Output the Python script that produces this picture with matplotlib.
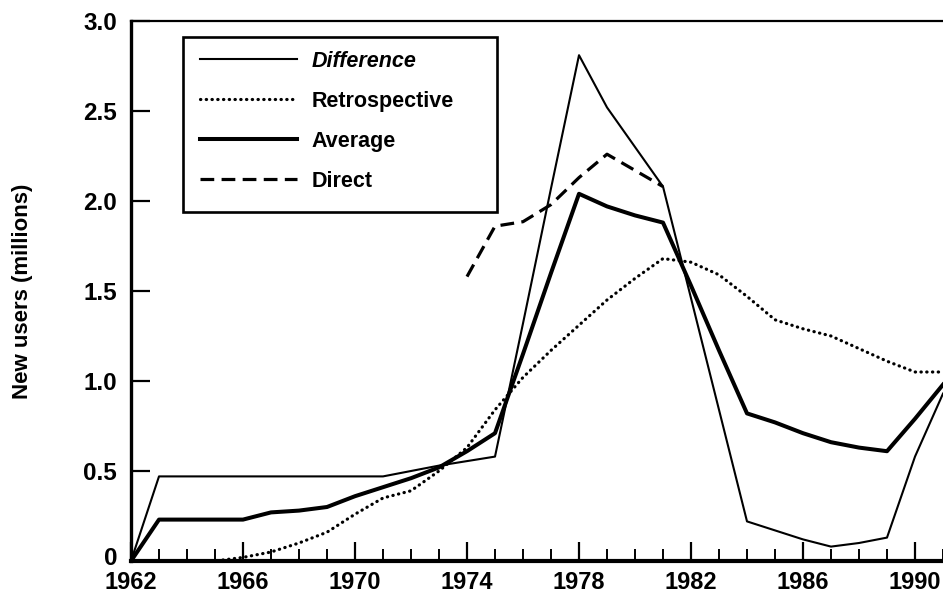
import matplotlib
matplotlib.use("Agg")
import matplotlib.pyplot as plt
import matplotlib.transforms as mtransforms
from matplotlib.patches import Rectangle
from matplotlib.ticker import MultipleLocator, FixedLocator

plt.rcParams['font.family'] = ['Liberation Sans', 'DejaVu Sans']

years = list(range(1962, 1992))
difference = [0.00, 0.47, 0.47, 0.47, 0.47, 0.47, 0.47, 0.47, 0.47, 0.47,
              0.50, 0.53, 0.555, 0.58, 1.32, 2.07, 2.81, 2.52, 2.30, 2.08,
              1.46, 0.84, 0.22, 0.17, 0.12, 0.08, 0.10, 0.13, 0.58, 0.93]
retrospective = [0.00, 0.00, 0.00, 0.00, 0.02, 0.05, 0.10, 0.16, 0.26, 0.35,
                 0.39, 0.50, 0.63, 0.84, 1.02, 1.17, 1.31, 1.45, 1.57, 1.68,
                 1.66, 1.59, 1.47, 1.34, 1.29, 1.25, 1.18, 1.11, 1.05, 1.05]
average = [0.00, 0.23, 0.23, 0.23, 0.23, 0.27, 0.28, 0.30, 0.36, 0.41,
           0.46, 0.52, 0.61, 0.71, 1.15, 1.60, 2.04, 1.97, 1.92, 1.88,
           1.53, 1.17, 0.82, 0.77, 0.71, 0.66, 0.63, 0.61, 0.79, 0.98]
direct_years = list(range(1974, 1982))
direct = [1.58, 1.86, 1.885, 1.98, 2.13, 2.26, 2.17, 2.08]

x_ticks = [1962, 1966, 1970, 1974, 1978, 1982, 1986, 1990]
y_ticks = [0, 0.5, 1.0, 1.5, 2.0, 2.5, 3.0]
y_labels = ['0', '0.5', '1.0', '1.5', '2.0', '2.5', '3.0']

fig = plt.figure(figsize=(9.43, 5.93), dpi=100)
ax = fig.add_axes([131 / 943, 32 / 593, 1 - 131 / 943, 540 / 593])

ax.plot(years, difference, color='black', lw=1.5, label='Difference')
ax.plot(years, retrospective, color='black', lw=2.3, linestyle=(0, (0.1, 1.7)),
        dash_capstyle='round', label='Retrospective')
ax.plot(years, average, color='black', lw=2.9, label='Average')
ax.plot(direct_years, direct, color='black', lw=2.3, linestyle=(0, (4.3, 2.3)),
        label='Direct')

ax.set_xlim(1962, 1991)
ax.set_ylim(0, 3.0)
ax.xaxis.set_major_locator(FixedLocator(x_ticks))
ax.xaxis.set_minor_locator(MultipleLocator(1))
ax.set_yticks(y_ticks)
ax.set_yticklabels(y_labels)

ax.tick_params(axis='x', which='major', direction='in', length=14, width=1.6,
               pad=7, labelsize=17)
ax.tick_params(axis='x', which='minor', direction='in', length=9, width=1.4)
ax.tick_params(axis='y', which='major', direction='in', length=14, width=1.6,
               pad=10, labelsize=17.5)
for lab in ax.get_xticklabels() + ax.get_yticklabels():
    lab.set_fontweight('bold')

# the "0" sits a bit above the axis in the original, clear of "1962"
zero = ax.get_yticklabels()[0]
zero.set_transform(zero.get_transform()
                   + mtransforms.ScaledTranslation(0, 5 / 100, fig.dpi_scale_trans))

ax.spines['right'].set_visible(False)
ax.spines['left'].set_linewidth(2.4)
ax.spines['bottom'].set_linewidth(3.0)
ax.spines['top'].set_linewidth(1.6)

ax.set_ylabel('New users (millions)', fontsize=16, fontweight='bold')
ax.yaxis.set_label_coords(-0.121, 0.5)

# legend box is wider than its contents in the original, so draw the frame apart
box = Rectangle((52 / 812, 349 / 540), 314 / 812, 175 / 540, transform=ax.transAxes,
                fill=False, edgecolor='black', lw=1.9, zorder=5)
ax.add_patch(box)
leg = ax.legend(loc='upper left', bbox_to_anchor=(69 / 812, 510 / 540),
                borderaxespad=0, borderpad=0, frameon=False,
                prop={'size': 15.5, 'weight': 'bold'}, handlelength=4.5,
                handletextpad=0.7, labelspacing=0.88)
leg.get_texts()[0].set_fontstyle('italic')

fig.savefig('out.png', dpi=100)
